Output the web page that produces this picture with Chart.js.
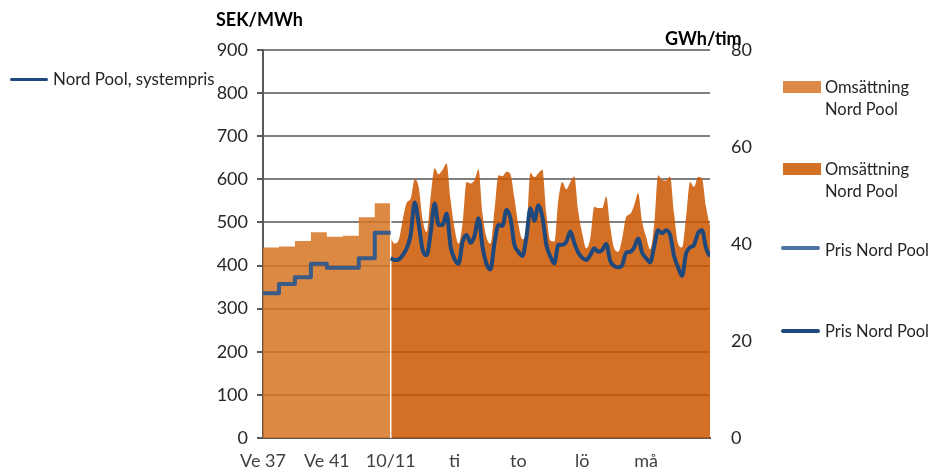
<!DOCTYPE html>
<html><head><meta charset="utf-8">
<script src="https://cdn.jsdelivr.net/npm/chart.js@4"></script>
<style>
html,body{margin:0;padding:0;background:#fff;}
#wrap{position:relative;width:932px;height:473px;overflow:hidden;font-family:Lato,"Open Sans",sans-serif;}
canvas{position:absolute;left:0;top:0;}
.t{position:absolute;white-space:nowrap;color:#262626;font-size:16.5px;line-height:22px;}
.b{font-weight:700;color:#000;}
.box{position:absolute;width:38px;height:12px;}
.ln{position:absolute;width:39px;height:4px;border-radius:2px;}
</style></head><body>
<div id="wrap">
<canvas id="c" width="932" height="473"></canvas>
<div class="t b" style="left:216px;top:8px;font-size:18px;">SEK/MWh</div>
<div class="t b" style="left:665px;top:27px;font-size:18px;">GWh/tim</div>
<div class="ln" style="left:10px;top:78px;width:38px;height:3px;background:#1F497D;"></div>
<div class="t" style="left:53px;top:68px;font-size:16.9px;">Nord Pool, systempris</div>
<div class="box" style="left:783px;top:81px;background:#DD8A48;"></div>
<div class="t" style="left:825px;top:76px;">Omsättning<br>Nord Pool</div>
<div class="box" style="left:783px;top:163px;background:#D37023;"></div>
<div class="t" style="left:825px;top:158px;">Omsättning<br>Nord Pool</div>
<div class="ln" style="left:781px;top:246px;background:#4E73A3;"></div>
<div class="t" style="left:825px;top:239px;">Pris Nord Pool</div>
<div class="ln" style="left:781px;top:329px;background:#1F497D;"></div>
<div class="t" style="left:825px;top:320px;">Pris Nord Pool</div>
</div>
<script>
// Weekly part (Ve 37 - Ve 44)
const weekLabels = ['Ve 37','Ve 38','Ve 39','Ve 40','Ve 41','Ve 42','Ve 43','Ve 44'];
const weeklyVolume = [39.3, 39.5, 40.6, 42.4, 41.5, 41.7, 45.5, 48.4]; // GWh/tim
const weeklyPrice  = [336, 357, 373, 404, 395, 395, 417, 476];         // SEK/MWh

// Hourly part from 10/11, one value every 3 hours (10 days)
const hoursPerStep = 3;
const hourlyVolume = [
 41.2,40.1,40.8,45.0,48.5,49.4,53.3,51.8,45.0,42.5,49.8,55.6,54.4,55.3,56.6,49.1,43.2,
 40.1,44.3,52.8,52.5,53.2,55.4,46.3,41.4,40.1,47.0,54.2,54.0,54.9,54.4,49.4,44.0,
 41.0,42.9,54.7,53.8,54.6,55.3,46.3,40.7,40.5,49.1,52.8,51.3,52.8,53.9,46.7,42.2,
 39.1,41.2,47.7,47.4,47.4,49.8,43.6,39.1,38.4,41.2,45.6,46.2,48.0,50.5,44.6,41.5,
 38.9,43.9,54.2,53.2,53.1,53.9,46.3,40.1,39.3,45.6,52.8,51.8,53.8,53.5,47.7,43.6
];
const hourlyPrice = [
 417,413,414,424,440,471,546,498,436,424,475,544,494,494,521,444,415,
 404,455,471,453,469,510,444,404,391,452,494,492,529,510,448,432,
 422,466,533,504,540,513,448,421,405,448,448,455,479,452,430,418,
 413,424,440,432,436,450,411,399,396,401,430,432,442,463,430,417,
 407,444,482,475,482,471,422,396,376,428,442,448,475,482,441,421
];

// Axis tick labels (x in week units; one day = 2 units)
const tickLabels = ['Ve 37','Ve 41','10/11','ti','to','lö','må'];
const tickValues = [0, 4, 8, 12, 16, 20, 24];
const hoursPerUnit = 12;

const weeklyPts = arr => arr.map((v,i)=>({x:i,y:v})).concat([{x:arr.length,y:arr[arr.length-1]}]);
const hourlyPts = arr => arr.map((v,k)=>({x:weekLabels.length + k*hoursPerStep/hoursPerUnit, y:v}));
const xMax = weekLabels.length + (hourlyVolume.length-1)*hoursPerStep/hoursPerUnit;

const separator = {
  id:'sep',
  afterDatasetDraw(chart,args){
    if(args.index!==2) return;
    const xs = chart.scales.x, ys = chart.scales.y2, ctx = chart.ctx;
    const x = xs.getPixelForValue(weekLabels.length);
    const yTop = ys.getPixelForValue(weeklyVolume[weeklyVolume.length-1]);
    ctx.save();
    ctx.strokeStyle='#ffffff'; ctx.lineWidth=1.5;
    ctx.beginPath(); ctx.moveTo(x,yTop); ctx.lineTo(x,chart.chartArea.bottom); ctx.stroke();
    ctx.restore();
  }
};

Chart.defaults.font.family = 'Lato, "Open Sans", sans-serif';
new Chart(document.getElementById('c'), {
  type:'line',
  data:{datasets:[
    {label:'Pris Nord Pool', data:hourlyPts(hourlyPrice), yAxisID:'y', borderColor:'#1F497D', borderWidth:4,
     pointRadius:0, fill:false, cubicInterpolationMode:'monotone', borderJoinStyle:'round', order:0},
    {label:'Nord Pool, systempris', data:weeklyPts(weeklyPrice), yAxisID:'y', borderColor:'#3A5B88', borderWidth:4,
     pointRadius:0, fill:false, stepped:'before', borderJoinStyle:'round', order:1},
    {label:'Omsättning Nord Pool', data:hourlyPts(hourlyVolume), yAxisID:'y2', borderWidth:0, borderColor:'rgba(0,0,0,0)',
     backgroundColor:'rgba(203,87,0,0.85)', fill:'origin', pointRadius:0, cubicInterpolationMode:'monotone', order:2},
    {label:'Omsättning Nord Pool (vecka)', data:weeklyPts(weeklyVolume), yAxisID:'y2', borderWidth:0, borderColor:'rgba(0,0,0,0)',
     backgroundColor:'rgba(214,116,34,0.85)', fill:'origin', pointRadius:0, stepped:'before', order:3}
  ]},
  options:{
    responsive:false, animation:false, events:[],
    layout:{padding:{top:50,left:0,right:0,bottom:0}},
    plugins:{legend:{display:false}, tooltip:{enabled:false}},
    scales:{
      x:{type:'linear', min:0, max:xMax,
         afterBuildTicks:s=>{s.ticks = tickValues.map(v=>({value:v}));},
         ticks:{callback:(v,i)=>tickLabels[i], autoSkip:false, maxRotation:0, font:{size:18}, color:'#404040', padding:12},
         grid:{display:false, drawTicks:false},
         border:{display:true, color:'#595959', width:2},
         afterFit:s=>{s.height=35;}},
      y:{position:'left', min:0, max:900,
         ticks:{stepSize:100, font:{size:18}, color:'#262626', padding:9},
         grid:{color:'#7f7f7f', lineWidth:2, tickLength:6, tickColor:'#595959', tickWidth:2},
         border:{color:'#595959', width:2},
         afterFit:s=>{s.width=263;}},
      y2:{position:'right', min:0, max:80,
         ticks:{stepSize:20, font:{size:18}, color:'#262626', padding:21},
         grid:{drawOnChartArea:false, drawTicks:false},
         border:{display:false},
         afterFit:s=>{s.width=222;}}
    }
  },
  plugins:[separator]
});
</script>
</body></html>
